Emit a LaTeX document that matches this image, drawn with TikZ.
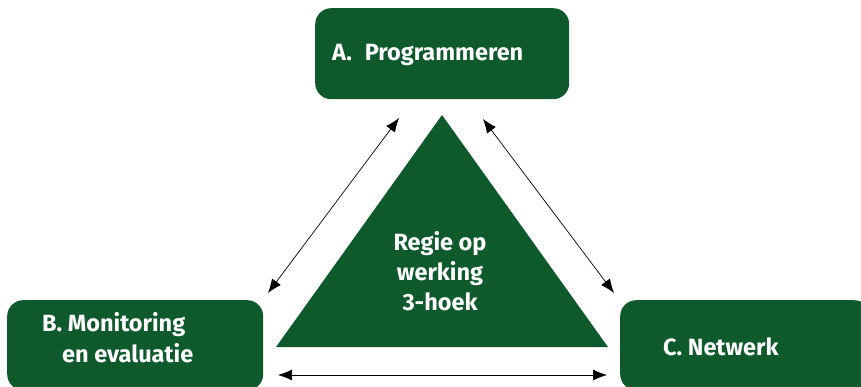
\documentclass[tikz,border=0pt]{standalone}
\usepackage{fontspec}
\setmainfont{Fira Sans}
\usepackage{xcolor}
\usepackage{tikz}
\usetikzlibrary{arrows.meta}
\definecolor{regiegreen}{RGB}{14,90,44}
\tikzset{
	box/.style={
			fill=regiegreen, rounded corners=16pt, anchor=north west, inner sep=0pt
		},
	boxtext/.style={
			text=white, font=\bfseries\fontsize{23.5}{31}\selectfont, align=left, anchor=west, inner sep=0pt
		},
	link/.style={
			line width=0.7pt, black, {Latex[length=14pt,width=11pt]}-{Latex[length=14pt,width=11pt]}
		}
}

\begin{document}
\begin{tikzpicture}[x=1pt,y=-1pt]
		\useasboundingbox (0,0) rectangle (861,387);
		% de drie onderdelen
		\node [box, minimum width=254pt, minimum height=91pt] (prog) at (315,8) {};
		\node [box, minimum width=256pt, minimum height=90pt] (monit) at (7,300) {};
		\node [box, minimum width=250pt, minimum height=90pt] (netw) at (620,300) {};
		\node [boxtext] (progtext) at (332,55) {A.\hspace{0.55em}Programmeren};
		\node [boxtext] (monittext) at (42,337.5) {B. Monitoring\\\hspace*{20pt}en evaluatie};
		\node [boxtext] (netwtext) at (663,347) {C. Netwerk};
		% driehoek
		\coordinate (top) at (442,115);
		\coordinate (left) at (276,347);
		\coordinate (right) at (608,347);
		\fill [regiegreen] (top) -- (left) -- (right) -- cycle;
		\node [text=white, font=\bfseries\fontsize{23.5}{30}\selectfont, align=center] (regie) at (440,271) {Regie op\\werking\\3-hoek};
		% pijlen
		\coordinate (ab1) at (399,118);
		\coordinate (ab2) at (268,293);
		\coordinate (ac1) at (483,119);
		\coordinate (ac2) at (614,293);
		\coordinate (bc1) at (278,375);
		\coordinate (bc2) at (607,375);
		\draw [link] (ab1) -- (ab2);
		\draw [link] (ac1) -- (ac2);
		\draw [link] (bc1) -- (bc2);
	\end{tikzpicture}
\end{document}
